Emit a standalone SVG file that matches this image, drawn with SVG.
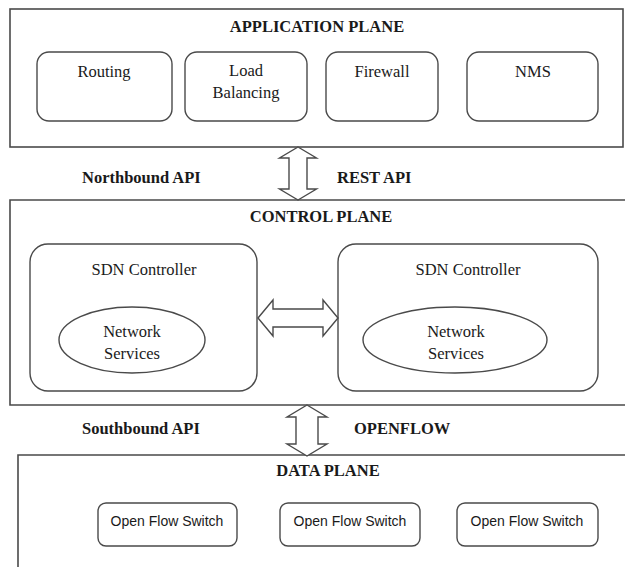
<svg xmlns="http://www.w3.org/2000/svg" width="625" height="567" viewBox="0 0 625 567">
  <style>
    .plane { fill: none; stroke: #4a4a4a; stroke-width: 1.6; }
    .box { fill: #ffffff; stroke: #4a4a4a; stroke-width: 1.4; }
    .arrow { fill: #ffffff; stroke: #4a4a4a; stroke-width: 1.4; stroke-linejoin: miter; }
    .title { font-family: "Liberation Serif", "Times New Roman", serif; font-weight: bold; font-size: 16.5px; fill: #1a1a1a; text-anchor: middle; }
    .lbl { font-family: "Liberation Serif", "Times New Roman", serif; font-size: 16.5px; fill: #1a1a1a; text-anchor: middle; }
    .api { font-family: "Liberation Serif", "Times New Roman", serif; font-weight: bold; font-size: 16.5px; fill: #1a1a1a; }
    .sw { font-family: "Liberation Sans", Arial, sans-serif; font-size: 14px; fill: #1a1a1a; text-anchor: middle; }
  </style>
  <rect width="625" height="567" fill="#ffffff"/>

  <!-- Application plane -->
  <g id="application-plane">
    <rect class="plane" x="10" y="9" width="613" height="138"/>
    <text class="title" x="317" y="32">APPLICATION PLANE</text>
  </g>
  <g id="routing">
    <rect class="box" x="37" y="52" width="135" height="69" rx="12"/>
    <text class="lbl" x="104" y="77">Routing</text>
  </g>
  <g id="load-balancing">
    <rect class="box" x="185" y="52" width="122" height="69" rx="12"/>
    <text class="lbl" x="246" y="76">Load</text>
    <text class="lbl" x="246" y="98">Balancing</text>
  </g>
  <g id="firewall">
    <rect class="box" x="326" y="52" width="112" height="69" rx="12"/>
    <text class="lbl" x="382" y="77">Firewall</text>
  </g>
  <g id="nms">
    <rect class="box" x="467" y="52" width="131" height="69" rx="12"/>
    <text class="lbl" x="533" y="77">NMS</text>
  </g>

  <!-- Control plane (open on the right) -->
  <g id="control-plane">
    <path class="plane" d="M625,200 H10 V405 H625"/>
    <text class="title" x="321" y="222">CONTROL PLANE</text>
  </g>
  <g id="sdn-controller-1">
    <rect class="box" x="30" y="244" width="227" height="147" rx="18"/>
    <text class="lbl" x="144" y="275">SDN Controller</text>
    <ellipse class="box" cx="132" cy="340" rx="73" ry="33"/>
    <text class="lbl" x="132" y="337">Network</text>
    <text class="lbl" x="132" y="359">Services</text>
  </g>
  <g id="sdn-controller-2">
    <rect class="box" x="338" y="244" width="260" height="147" rx="18"/>
    <text class="lbl" x="468" y="275">SDN Controller</text>
    <ellipse class="box" cx="455" cy="340" rx="92" ry="33"/>
    <text class="lbl" x="456" y="337">Network</text>
    <text class="lbl" x="456" y="359">Services</text>
  </g>

  <!-- Data plane (open on the right and bottom) -->
  <g id="data-plane">
    <path class="plane" d="M625,455 H18 V567"/>
    <text class="title" x="328" y="476">DATA PLANE</text>
  </g>
  <g id="switch-1">
    <rect class="box" x="98" y="503" width="139" height="43" rx="8"/>
    <text class="sw" x="167" y="526">Open Flow Switch</text>
  </g>
  <g id="switch-2">
    <rect class="box" x="280" y="503" width="140" height="43" rx="8"/>
    <text class="sw" x="350" y="526">Open Flow Switch</text>
  </g>
  <g id="switch-3">
    <rect class="box" x="457" y="503" width="141" height="43" rx="8"/>
    <text class="sw" x="527" y="526">Open Flow Switch</text>
  </g>

  <!-- API labels -->
  <g id="api-labels">
    <text class="api" x="82" y="183">Northbound API</text>
    <text class="api" x="337" y="183">REST API</text>
    <text class="api" x="82" y="434">Southbound API</text>
    <text class="api" x="354" y="434">OPENFLOW</text>
  </g>

  <!-- Connectors: hollow double-headed block arrows -->
  <g id="connectors">
    <polygon class="arrow" points="298,147 316.5,158 307,158 307,189 316.5,189 298,200 279.5,189 289,189 289,158 279.5,158"/>
    <polygon class="arrow" points="258,318 273,300 273,309 323,309 323,300 338,318 323,336 323,327 273,327 273,336"/>
    <polygon class="arrow" points="307,405 327,417 318,417 318,444 327,444 307,456 287,444 296,444 296,417 287,417"/>
  </g>
</svg>
